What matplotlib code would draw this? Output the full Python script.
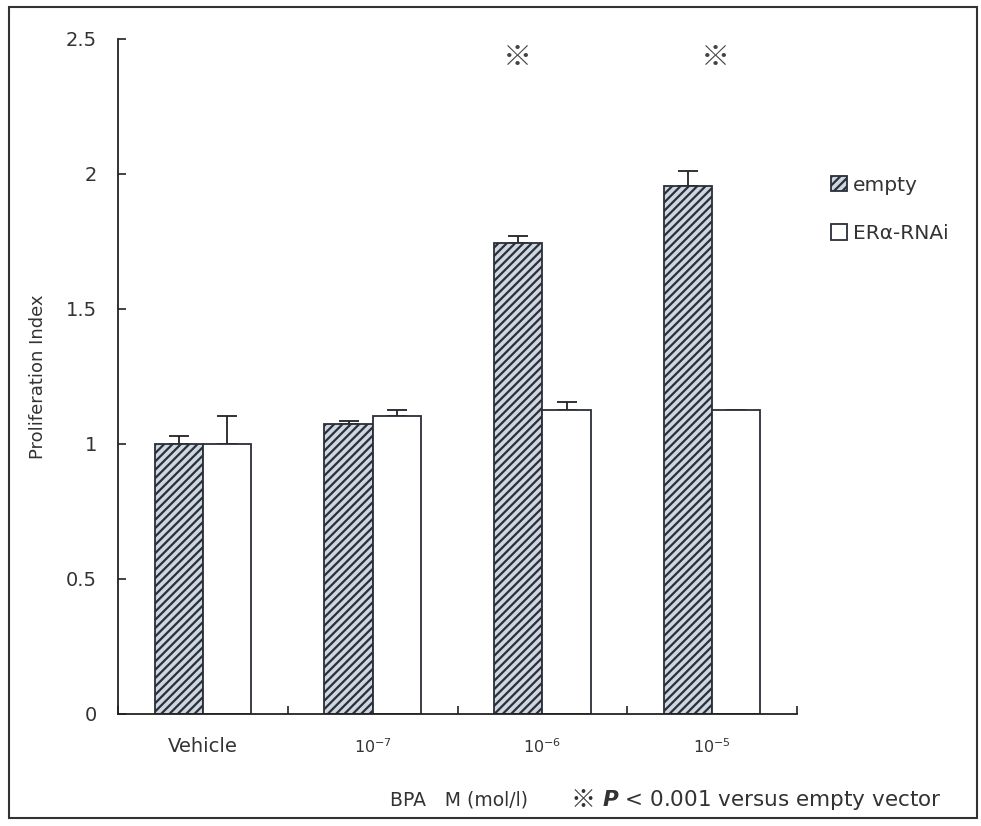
"""
Proliferation index of cells with empty vector vs ER-alpha RNAi after BPA.
Grouped hatched / white bars with upward-only error bars.
"""
import numpy as np
import matplotlib
matplotlib.use("Agg")
import matplotlib.pyplot as plt
from matplotlib.patches import Rectangle

plt.rcParams['font.family'] = ['DejaVu Sans', 'Noto Sans CJK JP']
plt.rcParams['hatch.linewidth'] = 1.6

# --- data ----------------------------------------------------------------
groups = ["Vehicle", "$10^{-7}$", "$10^{-6}$", "$10^{-5}$"]
empty_vals = [1.00, 1.075, 1.745, 1.955]
empty_err = [0.03, 0.01, 0.025, 0.055]
rnai_vals = [1.00, 1.105, 1.125, 1.125]
rnai_err = [0.105, 0.02, 0.03, 0.0]
signif = [False, False, True, True]     # ※ marks above the groups
star_shift = [0, 0, -0.15, 0.02]        # the marks are not placed evenly

fig = plt.figure(figsize=(9.81, 8.26), dpi=100)
ax = fig.add_axes([0.1203, 0.1356, 0.6922, 0.8172])

x = np.arange(len(groups))
w = 0.284
hatch_bars = ax.bar(x - w / 2, empty_vals, width=w, facecolor="#cdd6e1",
                    edgecolor="#2a2f38", hatch="////", linewidth=1.3,
                    label="empty", zorder=2)
white_bars = ax.bar(x + w / 2, rnai_vals, width=w, facecolor="white",
                    edgecolor="#2a2f38", linewidth=1.3,
                    label="ER\u03b1-RNAi", zorder=2)

# upward-only error bars
zeros = np.zeros(len(groups))
ax.errorbar(x - w / 2, empty_vals, yerr=[zeros, empty_err], fmt="none",
            ecolor="#222222", elinewidth=1.3, capsize=7, capthick=1.3, zorder=1)
ax.errorbar(x + w / 2, rnai_vals, yerr=[zeros, rnai_err], fmt="none",
            ecolor="#222222", elinewidth=1.3, capsize=7, capthick=1.3, zorder=1)

for xi, s, dx in zip(x, signif, star_shift):
    if s:
        ax.text(xi + dx, 2.43, "\u203b", ha="center", va="center",
                fontsize=21, color="#444444", family="Noto Sans CJK JP")

ax.set_xlim(-0.5, len(groups) - 0.5)
ax.set_ylim(0, 2.5)
ax.set_yticks([0, 0.5, 1, 1.5, 2, 2.5])
ax.set_yticklabels(["0", "0.5", "1", "1.5", "2", "2.5"])
ax.set_xticks(np.arange(len(groups) + 1) - 0.5)
ax.set_xticklabels([])
ax.tick_params(axis="both", direction="in", length=6, width=1.2,
               colors="#222222", labelsize=14, labelcolor="#333333")
ax.tick_params(axis="y", pad=15)
for xi, g in zip(x, groups):
    fs = 14 if g == "Vehicle" else 11.5
    ax.text(xi, -0.12, g, ha="center", va="center", fontsize=fs,
            color="#333333")

for side in ["top", "right"]:
    ax.spines[side].set_visible(False)
for side in ["left", "bottom"]:
    ax.spines[side].set_linewidth(1.3)
    ax.spines[side].set_color("#222222")

ax.set_ylabel("Proliferation Index", fontsize=13, color="#333333",
              labelpad=14)

fig.text(0.398, 0.031, "BPA\u3000M (mol/l)", fontsize=13.5, ha="left",
         va="center", color="#333333")
fig.text(0.582, 0.031, "\u203b", fontsize=18, ha="left", va="center",
         color="#333333", family="Noto Sans CJK JP")
fig.text(0.614, 0.031, "$\\boldsymbol{P}$ < 0.001 versus empty vector",
         fontsize=15.5, ha="left", va="center", color="#333333")

ax.legend(handles=[hatch_bars, white_bars], loc="upper left",
          bbox_to_anchor=(0.839, 0.797), bbox_transform=fig.transFigure,
          frameon=False, fontsize=14.5, handlelength=0.8, handleheight=0.8,
          handletextpad=0.3, labelspacing=1.45, borderaxespad=0,
          labelcolor="#333333")

# outer frame round the whole picture
fig.patches.append(Rectangle((0.009, 0.01), 0.987, 0.981, fill=False,
                             edgecolor="#333333", linewidth=1.5,
                             transform=fig.transFigure, figure=fig))

fig.savefig("out.png", dpi=100)
